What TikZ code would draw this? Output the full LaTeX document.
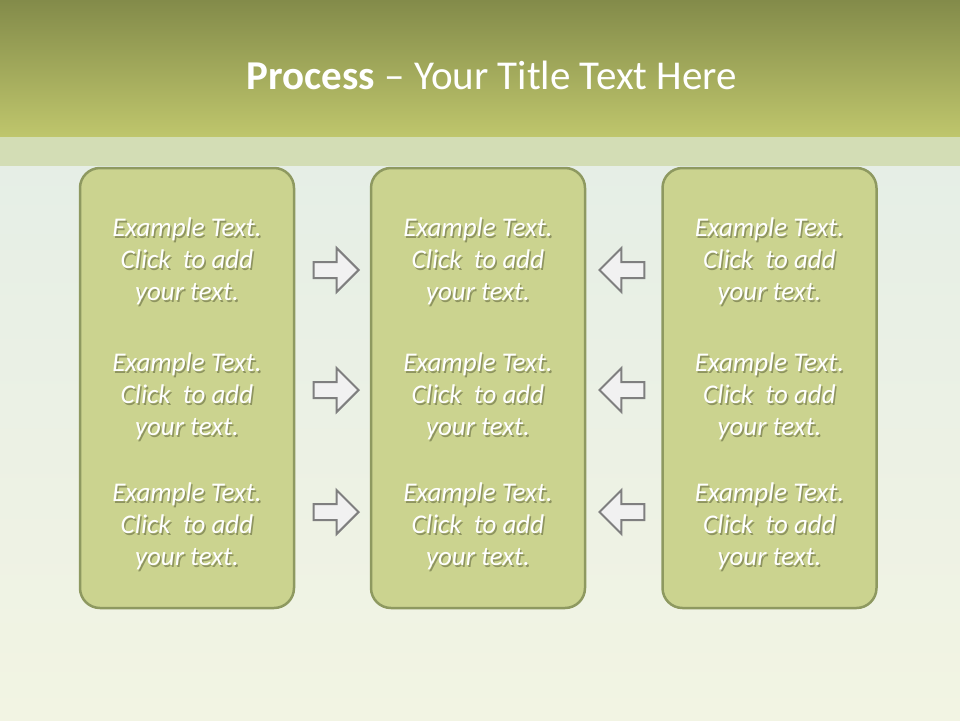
\documentclass[tikz,border=0pt]{standalone}
\usepackage{fontspec}
\setmainfont{Carlito}
\usetikzlibrary{shapes.arrows}
\definecolor{bandtop}{HTML}{838B4A}
\definecolor{bandbot}{HTML}{BFC66C}
\definecolor{stripe}{HTML}{D3DDB5}
\definecolor{bgtop}{HTML}{E5EEE6}
\definecolor{bgbot}{HTML}{F2F4E3}
\definecolor{boxfill}{HTML}{CBD38F}
\definecolor{boxline}{HTML}{8E9960}
\definecolor{arrfill}{HTML}{F1F1F1}
\definecolor{arrline}{HTML}{7F7F7F}
\definecolor{shadowcol}{HTML}{8E9460}
\newcommand{\shline}[1]{\makebox[0pt][l]{\hspace{1.5pt}\raisebox{-2pt}{\color{shadowcol}#1}}#1}
\newcommand{\exampletext}{\shline{Example Text.}\\\shline{Click\ \ to add}\\\shline{your text.}}
\tikzset{
  stepbox/.style={draw=boxline, line width=2.5pt, fill=boxfill, rounded corners=20pt,
    minimum width=214pt, minimum height=440pt, inner sep=0pt},
  txt/.style={text=white, align=center, font=\fontsize{27}{32}\selectfont\itshape, inner sep=0pt},
  rarrow/.style={single arrow, draw=arrline, fill=arrfill, line width=2pt, minimum height=45pt,
    inner sep=7pt, single arrow head extend=14pt, single arrow head indent=0pt, single arrow tip angle=90},
  larrow/.style={rarrow, shape border rotate=180},
}
\begin{document}
\begin{tikzpicture}[x=1pt,y=-1pt]
\useasboundingbox (0,0) rectangle (960,720);
% background
\shade[top color=bgtop, bottom color=bgbot] (0,137) rectangle (960,720);
\shade[top color=bandtop, bottom color=bandbot] (0,0) rectangle (960,137);
\fill[stripe] (0,137) rectangle (960,166);
% title
\node[text=white, font=\fontsize{41}{48}\selectfont, inner sep=0pt] (title) at (492,75)
  {\textbf{Process} -- Your Title Text Here};
% boxes
\node[stepbox] (b1) at (187,388) {};
\node[stepbox] (b2) at (478,388) {};
\node[stepbox] (b3) at (769.5,388) {};
% texts
\foreach \bx/\col in {187/1,478/2,769.5/3}{
  \foreach \ty/\row in {262.5/1,397.5/2,527.5/3}{
    \node[txt] (t\col\row) at (\bx,\ty) {\exampletext};
  }
}
% arrows
\node[rarrow, anchor=tip] (r1) at (360,270) {};
\node[rarrow, anchor=tip] (r2) at (360,390) {};
\node[rarrow, anchor=tip] (r3) at (360,512) {};
\node[larrow, anchor=tip] (l1) at (598,270) {};
\node[larrow, anchor=tip] (l2) at (598,390) {};
\node[larrow, anchor=tip] (l3) at (598,512) {};
\end{tikzpicture}
\end{document}
